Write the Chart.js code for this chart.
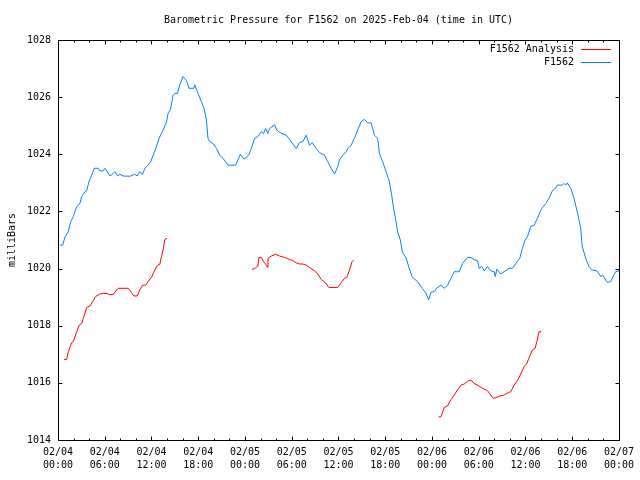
<!DOCTYPE html>
<html>
<head>
<meta charset="utf-8">
<title>Barometric Pressure for F1562</title>
<script src="https://cdn.jsdelivr.net/npm/chart.js@4.4.1/dist/chart.umd.min.js"></script>
<style>
  html, body { margin: 0; padding: 0; background: #fff; }
  canvas { display: block; }
</style>
</head>
<body>
<canvas id="pressureChart" width="640" height="480"></canvas>
<script>
// hours since 2025-02-04 00:00 UTC
const stationHours = [
  0.26, 0.60, 0.90, 1.32, 1.63, 1.96, 2.40, 2.82, 3.04, 3.46, 3.68, 3.97, 4.32, 4.65, 5.16, 5.38, 5.80, 6.02, 6.32, 6.66,
  7.09, 7.30, 7.65, 7.94, 8.37, 9.22, 9.86, 10.16, 10.50, 10.85, 11.15, 11.57, 11.91, 12.21, 12.55, 12.98, 13.49, 13.93, 14.13, 14.44,
  14.77, 14.99, 15.33, 15.63, 16.05, 16.49, 16.82, 17.42, 17.55, 17.97, 18.41, 18.74, 19.05, 19.25, 19.47, 19.90, 20.33, 20.75, 21.18, 21.82,
  22.80, 23.41, 23.87, 24.47, 24.81, 25.24, 25.66, 26.10, 26.39, 26.65, 26.94, 27.16, 27.80, 28.09, 28.66, 29.30, 29.94, 30.58, 31.00, 31.42,
  31.86, 32.28, 32.63, 33.14, 33.56, 34.20, 34.63, 35.06, 35.49, 35.91, 36.13, 36.55, 36.99, 37.19, 37.62, 38.05, 38.47, 38.91, 39.33, 39.75,
  40.19, 40.61, 41.03, 41.25, 41.67, 42.11, 42.53, 42.83, 43.04, 43.39, 43.59, 43.94, 44.23, 44.67, 45.09, 45.48, 46.12, 46.76, 47.21, 47.57,
  47.87, 48.30, 48.62, 49.15, 49.58, 50.00, 50.44, 50.86, 51.50, 51.92, 52.56, 53.00, 53.42, 53.84, 54.06, 54.41, 54.70, 55.13, 55.56, 55.99,
  56.12, 56.33, 56.84, 57.26, 57.90, 58.33, 58.76, 59.27, 59.61, 59.95, 60.25, 60.68, 61.11, 61.53, 62.09, 62.61, 63.03, 63.46, 63.89, 64.09,
  64.73, 64.95, 65.17, 65.37, 65.81, 66.23, 66.65, 67.09, 67.29, 67.73, 68.15, 68.57, 69.21, 69.65, 69.94, 70.29, 70.49, 70.93, 71.35, 71.57,
  72.00
];
const stationPressure = [
  1020.82, 1020.82, 1021.11, 1021.29, 1021.64, 1021.82, 1022.17, 1022.28, 1022.52, 1022.69, 1022.72, 1023.04, 1023.27, 1023.51, 1023.51, 1023.42, 1023.42, 1023.51, 1023.39, 1023.24,
  1023.33, 1023.39, 1023.24, 1023.30, 1023.24, 1023.23, 1023.30, 1023.24, 1023.39, 1023.30, 1023.51, 1023.62, 1023.74, 1023.97, 1024.20, 1024.56, 1024.85, 1025.14, 1025.43, 1025.57,
  1026.07, 1026.13, 1026.13, 1026.43, 1026.72, 1026.58, 1026.31, 1026.31, 1026.43, 1026.13, 1025.84, 1025.61, 1025.20, 1024.56, 1024.44, 1024.38, 1024.21, 1023.97, 1023.86, 1023.62,
  1023.62, 1024.00, 1023.83, 1023.97, 1024.20, 1024.56, 1024.62, 1024.79, 1024.73, 1024.90, 1024.73, 1024.90, 1025.03, 1024.85, 1024.73, 1024.67, 1024.44, 1024.20, 1024.41, 1024.44,
  1024.67, 1024.32, 1024.41, 1024.20, 1024.06, 1023.97, 1023.74, 1023.51, 1023.31, 1023.57, 1023.80, 1023.97, 1024.09, 1024.20, 1024.32, 1024.56, 1024.85, 1025.14, 1025.22, 1025.10,
  1025.10, 1024.67, 1024.56, 1024.03, 1023.74, 1023.39, 1023.04, 1022.58, 1022.17, 1021.64, 1021.29, 1021.00, 1020.55, 1020.38, 1020.00, 1019.70, 1019.55, 1019.31, 1019.15, 1018.90,
  1019.17, 1019.20, 1019.32, 1019.42, 1019.31, 1019.42, 1019.66, 1019.89, 1019.89, 1020.18, 1020.39, 1020.39, 1020.30, 1020.28, 1020.01, 1020.07, 1019.92, 1020.07, 1019.92, 1019.89,
  1019.72, 1019.98, 1019.81, 1019.89, 1020.01, 1020.01, 1020.18, 1020.36, 1020.71, 1021.00, 1021.11, 1021.47, 1021.52, 1021.76, 1022.11, 1022.28, 1022.46, 1022.73, 1022.81, 1022.92,
  1022.92, 1022.98, 1022.92, 1023.00, 1022.81, 1022.46, 1021.99, 1021.41, 1020.77, 1020.36, 1020.07, 1019.95, 1019.92, 1019.72, 1019.77, 1019.60, 1019.52, 1019.54, 1019.77, 1019.89,
  1019.92
];

// analysis runs, separated by null gaps
const analysisHours = [
  0.77, 1.11, 1.32, 1.76, 1.96, 2.40, 2.73, 3.04, 3.33, 3.68, 4.10, 4.45, 4.83, 5.38, 5.80, 6.32, 6.57, 7.08, 7.52, 7.72,
  9.01, 9.44, 9.74, 10.16, 10.50, 10.85, 11.27, 11.70, 12.00, 12.43, 12.77, 13.07, 13.28, 13.49, 13.71, 14.00,
  19.00,
  24.89, 25.24, 25.66, 25.79, 26.10, 26.39, 26.74, 26.94, 26.97, 27.38, 27.93, 28.44, 29.08, 29.72, 30.14, 30.58, 31.00, 31.42, 31.86,
  32.28, 32.92, 33.35, 33.78, 34.33, 34.76, 35.91, 36.34, 36.77, 37.06, 37.41, 37.75, 37.96,
  43.00,
  48.85, 49.15, 49.58, 50.00, 50.44, 50.86, 51.28, 51.72, 52.14, 52.69, 53.13, 53.42, 53.97, 54.48, 55.12, 55.56, 55.85, 56.20, 56.71, 57.26,
  57.81, 58.12, 58.54, 58.97, 59.40, 59.82, 60.12, 60.47, 60.89, 61.24, 61.45, 61.75, 62.04
];
const analysisPressure = [
  1016.82, 1016.82, 1017.09, 1017.41, 1017.44, 1017.79, 1018.02, 1018.08, 1018.32, 1018.64, 1018.69, 1018.84, 1019.02, 1019.11, 1019.13, 1019.13, 1019.09, 1019.09, 1019.25, 1019.31,
  1019.31, 1019.16, 1019.04, 1019.04, 1019.25, 1019.42, 1019.42, 1019.60, 1019.69, 1019.95, 1020.12, 1020.15, 1020.42, 1020.65, 1021.02, 1021.06,
  null,
  1019.97, 1020.00, 1020.09, 1020.39, 1020.39, 1020.24, 1020.12, 1020.04, 1020.36, 1020.44, 1020.50, 1020.44, 1020.39, 1020.32, 1020.28, 1020.20, 1020.16, 1020.16, 1020.12,
  1020.04, 1019.92, 1019.81, 1019.62, 1019.50, 1019.34, 1019.34, 1019.50, 1019.66, 1019.69, 1019.95, 1020.24, 1020.30,
  null,
  1014.81, 1014.81, 1015.14, 1015.19, 1015.42, 1015.57, 1015.75, 1015.92, 1015.96, 1016.08, 1016.07, 1015.98, 1015.90, 1015.81, 1015.73, 1015.57, 1015.46, 1015.48, 1015.54, 1015.57,
  1015.66, 1015.69, 1015.92, 1016.08, 1016.31, 1016.57, 1016.65, 1016.88, 1017.15, 1017.21, 1017.44, 1017.79, 1017.79
];

const tickDates = ['02/04', '02/04', '02/04', '02/04', '02/05', '02/05', '02/05', '02/05', '02/06', '02/06', '02/06', '02/06', '02/07'];
const tickTimes = ['00:00', '06:00', '12:00', '18:00', '00:00', '06:00', '12:00', '18:00', '00:00', '06:00', '12:00', '18:00', '00:00'];

const monoFont = "'DejaVu Sans Mono', 'Liberation Mono', monospace";

function toPoints(xs, ys) {
    return xs.map((x, i) => ({ x: x, y: ys[i] }));
}

// frame, inward ticks, title, axis label and legend, gnuplot style
const gnuplotDecor = {
    id: 'gnuplotDecor',
    afterDraw(chart) {
        const ctx = chart.ctx;
        const area = chart.chartArea;
        const xs = chart.scales.x;
        const ys = chart.scales.y;
        const L = Math.round(area.left) + 0.5, R = Math.round(area.right) + 0.5;
        const T = Math.round(area.top) + 0.5, B = Math.round(area.bottom) + 0.5;

        ctx.save();
        ctx.strokeStyle = '#000';
        ctx.lineWidth = 1;
        ctx.beginPath();
        ctx.rect(L, T, R - L, B - T);

        // x ticks: major every 6h, minor every 2h
        for (let h = 0; h <= 72; h += 2) {
            const px = Math.round(xs.getPixelForValue(h)) + 0.5;
            const len = (h % 6 === 0) ? 4 : 2;
            ctx.moveTo(px, B); ctx.lineTo(px, B - len);
            ctx.moveTo(px, T); ctx.lineTo(px, T + len);
        }
        // y ticks every 2 mb
        for (let v = 1014; v <= 1028; v += 2) {
            const py = Math.round(ys.getPixelForValue(v)) + 0.5;
            ctx.moveTo(L, py); ctx.lineTo(L + 4, py);
            ctx.moveTo(R, py); ctx.lineTo(R - 4, py);
        }
        ctx.stroke();

        ctx.fillStyle = '#000';
        ctx.font = '10px ' + monoFont;
        ctx.textAlign = 'center';
        ctx.textBaseline = 'middle';
        ctx.fillText('Barometric Pressure for F1562 on 2025-Feb-04 (time in UTC)', (area.left + area.right) / 2, 20);

        ctx.save();
        ctx.translate(12, (area.top + area.bottom) / 2);
        ctx.rotate(-Math.PI / 2);
        ctx.fillText('milliBars', 0, 0);
        ctx.restore();

        // legend
        ctx.textAlign = 'right';
        chart.data.datasets.forEach((ds, i) => {
            const y = 49 + i * 13;
            ctx.fillText(ds.label, 574, y);
            ctx.strokeStyle = ds.borderColor;
            ctx.beginPath();
            ctx.moveTo(581, y + 0.5);
            ctx.lineTo(611, y + 0.5);
            ctx.stroke();
        });
        ctx.restore();
    }
};

const chart = new Chart(document.getElementById('pressureChart').getContext('2d'), {
    type: 'line',
    data: {
        datasets: [{
            label: 'F1562 Analysis',
            data: toPoints(analysisHours, analysisPressure),
            borderColor: '#ff0000',
            borderWidth: 1,
            pointRadius: 0,
            tension: 0,
            spanGaps: false
        }, {
            label: 'F1562',
            data: toPoints(stationHours, stationPressure),
            borderColor: '#0080ff',
            borderWidth: 1,
            pointRadius: 0,
            tension: 0
        }]
    },
    options: {
        responsive: false,
        animation: false,
        devicePixelRatio: 1,
        layout: { padding: { left: 0, right: 20, top: 40, bottom: 0 } },
        plugins: {
            legend: { display: false },
            title: { display: false },
            tooltip: { enabled: false }
        },
        scales: {
            x: {
                type: 'linear',
                min: 0,
                max: 72,
                afterFit: s => { s.height = 40; },
                afterBuildTicks: s => { s.ticks = tickDates.map((d, i) => ({ value: i * 6 })); },
                grid: { display: false, drawTicks: false },
                border: { display: false },
                ticks: {
                    autoSkip: false,
                    maxRotation: 0,
                    padding: 6,
                    color: '#000',
                    font: { family: monoFont, size: 10, lineHeight: 1.3 },
                    callback: (v) => [tickDates[v / 6], tickTimes[v / 6]]
                }
            },
            y: {
                min: 1014,
                max: 1028,
                afterFit: s => { s.width = 58; },
                grid: { display: false, drawTicks: false },
                border: { display: false },
                ticks: {
                    stepSize: 2,
                    padding: 7,
                    color: '#000',
                    font: { family: monoFont, size: 10 },
                    callback: (v) => String(v)
                }
            }
        }
    },
    plugins: [gnuplotDecor]
});
</script>
</body>
</html>
